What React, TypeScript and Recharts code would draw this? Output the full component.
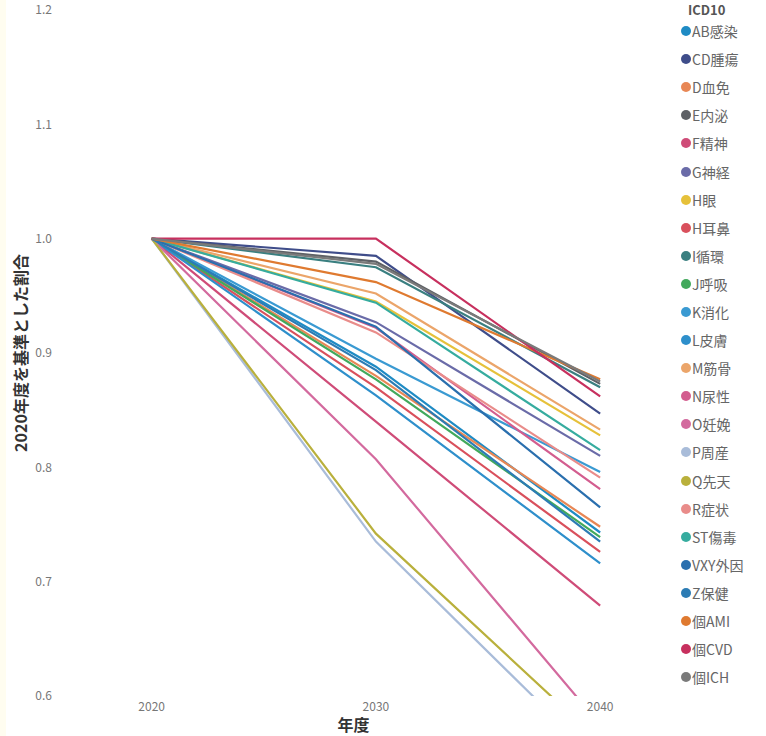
import { LineChart, Line, XAxis, YAxis } from "recharts";

const years = [2020, 2030, 2040];
const yTicks = [0.6, 0.7, 0.8, 0.9, 1.0, 1.1, 1.2];

const categories = [
  "AB感染", "CD腫瘍", "D血免", "E内泌", "F精神", "G神経", "H眼", "H耳鼻",
  "I循環", "J呼吸", "K消化", "L皮膚", "M筋骨", "N尿性", "O妊娩", "P周産",
  "Q先天", "R症状", "ST傷毒", "VXY外因", "Z保健", "個AMI", "個CVD", "個ICH",
];

const colors = [
  "#1f8bc4", "#3f4d8a", "#e88755", "#5e6166", "#cf4c78", "#6a6ba8", "#e6c13a", "#d9505c",
  "#3a7f80", "#42a95c", "#3a9ad2", "#2e8fcb", "#eba56a", "#d35d8f", "#d36a9e", "#a9bcd9",
  "#b9b03c", "#e98c8a", "#36ac9f", "#2a6fae", "#2c7cb4", "#df7a30", "#c7305e", "#7a7a7a",
];

const values2020 = categories.map(() => 1.0);
const values2030 = [
  0.888, 0.985, 0.88, 0.98, 0.84, 0.927, 0.945, 0.87,
  0.975, 0.877, 0.895, 0.863, 0.952, 0.922, 0.807, 0.735,
  0.742, 0.918, 0.944, 0.923, 0.885, 0.962, 1.0, 0.978,
];
const values2040 = [
  0.743, 0.847, 0.748, 0.873, 0.679, 0.81, 0.828, 0.726,
  0.87, 0.739, 0.796, 0.716, 0.833, 0.781, 0.575, 0.542,
  0.56, 0.791, 0.815, 0.765, 0.735, 0.877, 0.862, 0.875,
];

const series = [values2020, values2030, values2040];
const data = years.map((year, i) => {
  const row: Record<string, number> = { year };
  categories.forEach((c, j) => {
    row[c] = series[i][j];
  });
  return row;
});

const font = "'Segoe UI', 'Noto Sans CJK JP', 'Noto Sans', sans-serif";

function LegendBox() {
  return (
    <div style={{ position: "absolute", left: 681, top: 2, width: 85, fontFamily: font }}>
      <div style={{ fontSize: 13, fontWeight: 700, color: "#555", height: 15, lineHeight: "15px", paddingLeft: 7 }}>
        ICD10
      </div>
      {categories.map((c, i) => (
        <div key={c} style={{ display: "flex", alignItems: "center", height: 28.1, whiteSpace: "nowrap" }}>
          <span
            style={{
              display: "inline-block",
              width: 10,
              height: 10,
              borderRadius: 5,
              background: colors[i],
              marginRight: 1,
              flexShrink: 0,
            }}
          />
          <span style={{ fontSize: 14, color: "#666" }}>{c}</span>
        </div>
      ))}
    </div>
  );
}

export default function App() {
  return (
    <div style={{ position: "absolute", left: 0, top: 0, width: 766, height: 736, background: "#fff" }}>
      <div style={{ position: "absolute", left: 0, top: 0, width: 6, height: 736, background: "#fffdf0" }} />
      <LineChart
        width={766}
        height={736}
        data={data}
        margin={{ top: 10, right: 121, left: 0, bottom: 0 }}
        style={{ fontFamily: font }}
      >
        <XAxis
          dataKey="year"
          type="number"
          domain={[2016, 2042]}
          ticks={years}
          height={40}
          tickLine={false}
          axisLine={false}
          tickSize={0}
          tickMargin={6}
          tick={{ fontSize: 12, fill: "#777" }}
          label={{ value: "年度", position: "insideBottom", offset: 5, style: { fontSize: 16, fontWeight: 700, fill: "#333" } }}
        />
        <YAxis
          type="number"
          domain={[0.6, 1.2]}
          allowDataOverflow
          ticks={yTicks}
          width={62}
          tickLine={false}
          axisLine={false}
          tickSize={0}
          tickMargin={10}
          tickFormatter={(v: number) => v.toFixed(1)}
          tick={{ fontSize: 12, fill: "#777" }}
          label={{
            value: "2020年度を基準とした割合",
            angle: -90,
            position: "center",
            dx: -10,
            style: { fontSize: 16, fontWeight: 700, fill: "#333", textAnchor: "middle" },
          }}
        />
        {categories.map((c, i) => (
          <Line
            key={c}
            dataKey={c}
            stroke={colors[i]}
            strokeWidth={2.2}
            dot={false}
            type="linear"
            isAnimationActive={false}
          />
        ))}
      </LineChart>
      <LegendBox />
    </div>
  );
}
